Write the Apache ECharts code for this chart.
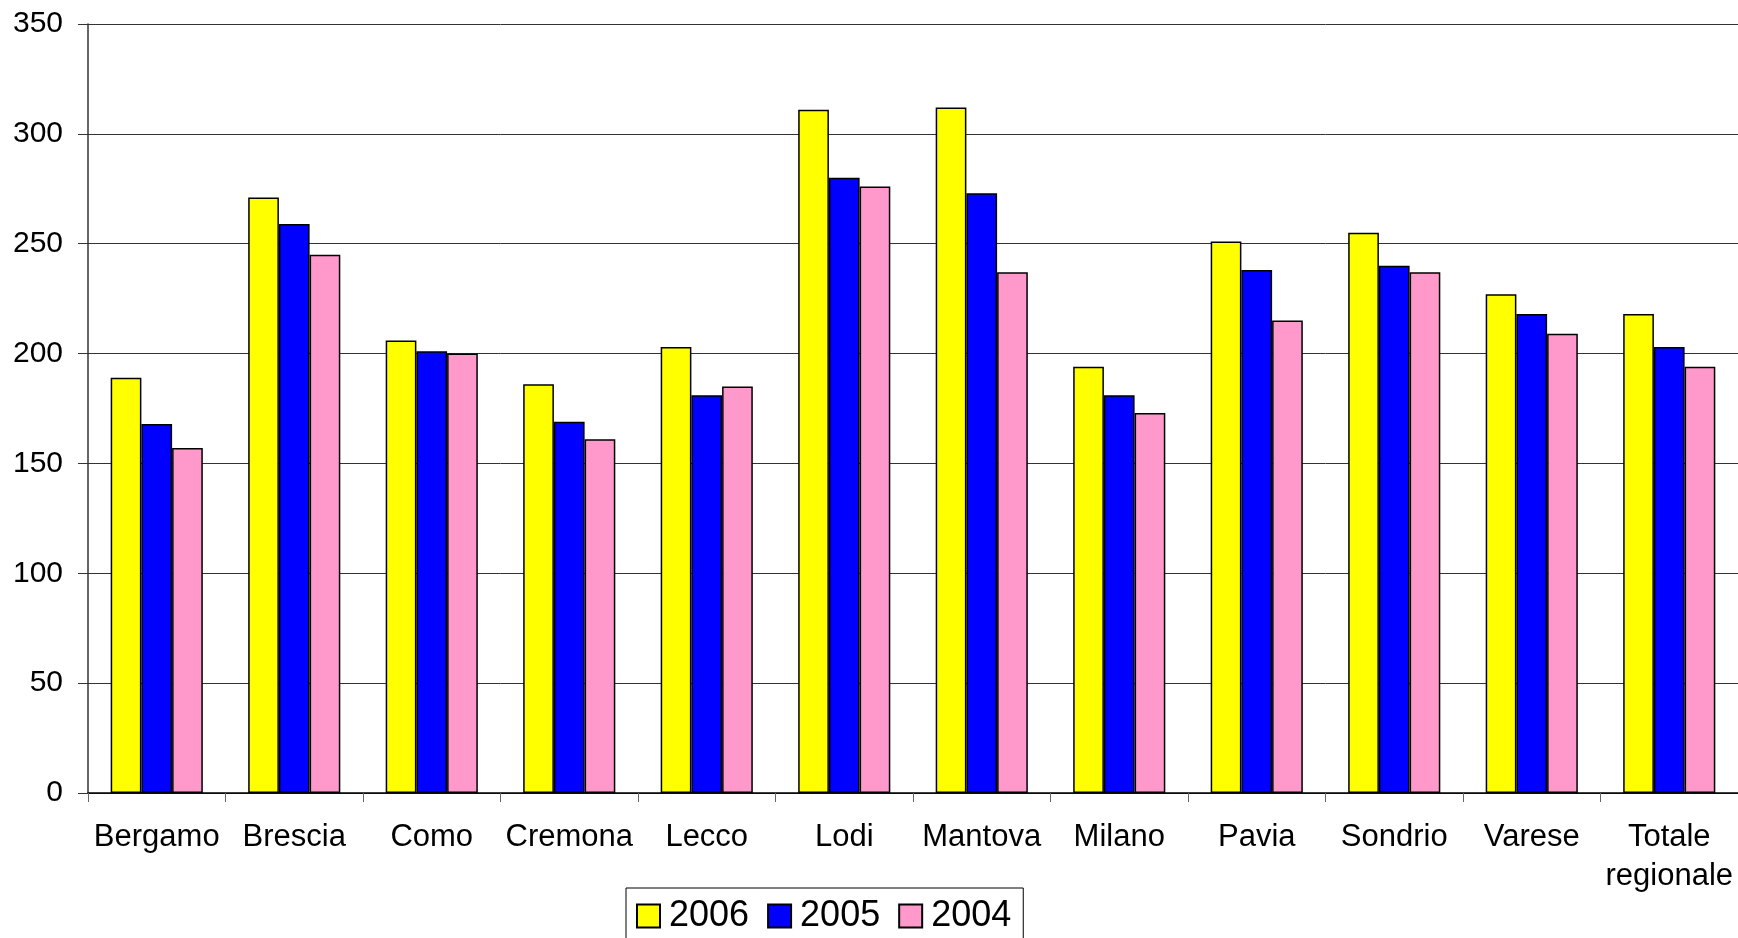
<!DOCTYPE html>
<html>
<head>
<meta charset="utf-8">
<script src="https://cdn.jsdelivr.net/npm/echarts@6/dist/echarts.min.js"></script>
<style>
  html, body { margin: 0; padding: 0; background: #fff; }
  #chart { width: 1738px; height: 938px; }
</style>
</head>
<body>
<div id="chart"></div>
<script>
// categories and values
const provinces = ['Bergamo', 'Brescia', 'Como', 'Cremona', 'Lecco', 'Lodi', 'Mantova',
    'Milano', 'Pavia', 'Sondrio', 'Varese', 'Totale\nregionale'];
const y2006 = [189, 271, 206, 186, 203, 311, 312, 194, 251, 255, 227, 218];
const y2005 = [168, 259, 201, 169, 181, 280, 273, 181, 238, 240, 218, 203];
const y2004 = [157, 245, 200, 161, 185, 276, 237, 173, 215, 237, 209, 194];
const yTicks = { min: 0, max: 350, step: 50 };

const chart = echarts.init(document.getElementById('chart'));

const barStyle = (color) => ({ color: color, borderColor: '#000', borderWidth: 1.5 });

chart.setOption({
    animation: false,
    textStyle: { fontFamily: 'Liberation Sans, Arial, sans-serif' },
    grid: { left: 88, right: 0, top: 24, bottom: 145, containLabel: false },
    legend: {
        left: 626,
        top: 888,
        itemWidth: 23,
        itemHeight: 23,
        itemGap: 18,
        padding: [10, 12, 20, 10],
        borderColor: '#000',
        borderWidth: 1,
        icon: 'rect',
        textStyle: { fontSize: 36, color: '#000', padding: [0, 0, 0, 4] },
        data: ['2006', '2005', '2004']
    },
    xAxis: {
        type: 'category',
        data: provinces,
        axisLine: { lineStyle: { color: '#000', width: 1.5 } },
        axisTick: { show: true, length: 9, lineStyle: { color: '#666' } },
        axisLabel: {
            color: '#000', fontSize: 31, margin: 25, interval: 0,
            lineHeight: 39, verticalAlign: 'top'
        }
    },
    yAxis: {
        type: 'value',
        min: yTicks.min,
        max: yTicks.max,
        interval: yTicks.step,
        axisLine: { show: true, lineStyle: { color: '#333', width: 1.5 } },
        axisTick: { show: true, length: 10, inside: false, lineStyle: { color: '#333' } },
        axisLabel: { color: '#000', fontSize: 30, margin: 25 },
        splitLine: { lineStyle: { color: '#333', width: 1 } }
    },
    series: [
        { name: '2006', type: 'bar', data: y2006, itemStyle: barStyle('#FFFF00'),
          barGap: '0%', barCategoryGap: '33%' },
        { name: '2005', type: 'bar', data: y2005, itemStyle: barStyle('#0000FF') },
        { name: '2004', type: 'bar', data: y2004, itemStyle: barStyle('#FF99CC') }
    ]
});
</script>
</body>
</html>
